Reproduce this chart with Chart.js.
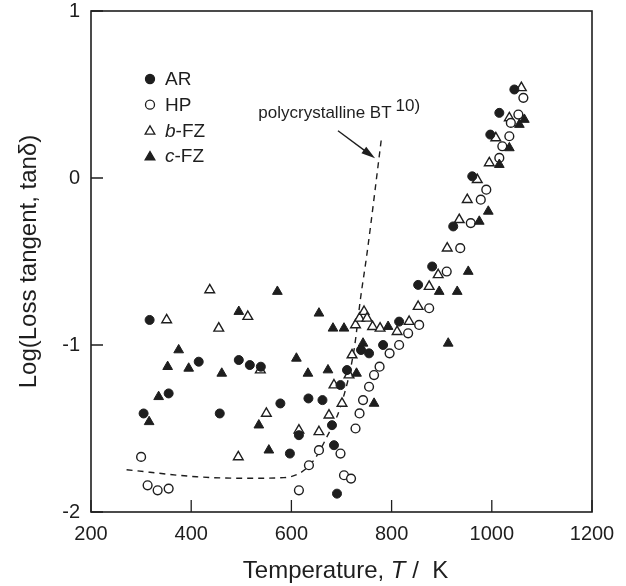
<!DOCTYPE html>
<html><head><meta charset="utf-8">
<script src="https://cdn.jsdelivr.net/npm/chart.js@4.4.1/dist/chart.umd.min.js"></script>
<style>html,body{margin:0;padding:0;background:#fff;}canvas{display:block;}</style>
</head><body>
<canvas id="c" width="626" height="586"></canvas>
<script>
// ---- data (temperature in K, log10 tan delta) ----
const xTickValues = [200, 400, 600, 800, 1000, 1200];
const yTickValues = [-2, -1, 0, 1];

const arT   = [305, 317, 355, 415, 457, 495, 517, 539, 578, 597, 615, 634, 662, 681, 685, 691, 698, 711, 739, 755, 783, 815, 853, 881, 923, 961, 997, 1015, 1045];
const arLog = [-1.41, -0.85, -1.29, -1.10, -1.41, -1.09, -1.12, -1.13, -1.35, -1.65, -1.54, -1.32, -1.33, -1.48, -1.60, -1.89, -1.24, -1.15, -1.03, -1.05, -1.00, -0.86, -0.64, -0.53, -0.29, 0.01, 0.26, 0.39, 0.53];

const hpT   = [300, 313, 333, 355, 615, 635, 655, 698, 705, 719, 728, 736, 743, 755, 765, 776, 796, 815, 833, 855, 875, 910, 937, 958, 978, 989, 1015, 1021, 1035, 1038, 1053, 1063];
const hpLog = [-1.67, -1.84, -1.87, -1.86, -1.87, -1.72, -1.63, -1.65, -1.78, -1.80, -1.50, -1.41, -1.33, -1.25, -1.18, -1.13, -1.05, -1.00, -0.93, -0.88, -0.78, -0.56, -0.42, -0.27, -0.13, -0.07, 0.12, 0.19, 0.25, 0.33, 0.38, 0.48];

const bfzT   = [351, 437, 455, 494, 513, 538, 550, 615, 655, 675, 685, 701, 715, 721, 728, 736, 745, 751, 762, 777, 811, 835, 853, 875, 893, 911, 935, 951, 971, 995, 1008, 1035, 1059];
const bfzLog = [-0.85, -0.67, -0.90, -1.67, -0.83, -1.15, -1.41, -1.51, -1.52, -1.42, -1.24, -1.35, -1.18, -1.06, -0.88, -0.84, -0.80, -0.84, -0.89, -0.90, -0.92, -0.86, -0.77, -0.65, -0.58, -0.42, -0.25, -0.13, -0.01, 0.09, 0.24, 0.36, 0.54];

const cfzT   = [316, 335, 353, 375, 395, 461, 495, 535, 555, 572, 610, 633, 655, 673, 683, 705, 730, 743, 765, 793, 895, 913, 931, 953, 975, 993, 1015, 1035, 1055, 1065];
const cfzLog = [-1.46, -1.31, -1.13, -1.03, -1.14, -1.17, -0.80, -1.48, -1.63, -0.68, -1.08, -1.17, -0.81, -1.15, -0.90, -0.90, -1.17, -0.99, -1.35, -0.89, -0.68, -0.99, -0.68, -0.56, -0.26, -0.20, 0.08, 0.18, 0.32, 0.35];

const polyT   = [271, 411, 505, 585, 618, 645, 671, 698, 725, 738, 751, 780];
const polyLog = [-1.747, -1.789, -1.798, -1.794, -1.765, -1.689, -1.549, -1.369, -1.03, -0.72, -0.45, 0.244];

// annotation anchor (data space)
const noteText = 'polycrystalline BT';
const noteRef = '10)';
const noteAt = {T: 534, L: 0.389};
const arrowFrom = {T: 693, L: 0.283};
const arrowTo = {T: 767, L: 0.118};

// ---- styles ----
const ink = '#1e1e1e';
const FONT = '"Liberation Sans", Arial, Helvetica, sans-serif';
const pts = (xs, ys) => xs.map((x, i) => ({x, y: ys[i]}));

const legendItems = [
  {style: 'circle', filled: true, parts: [{t: 'AR'}]},
  {style: 'circle', filled: false, parts: [{t: 'HP'}]},
  {style: 'triangle', filled: false, parts: [{t: 'b', it: true}, {t: '-FZ'}]},
  {style: 'triangle', filled: true, parts: [{t: 'c', it: true}, {t: '-FZ'}]}
];

function marker(ctx, style, filled, x, y, r) {
  ctx.beginPath();
  if (style === 'circle') {
    ctx.arc(x, y, r, 0, Math.PI * 2);
  } else {
    for (let i = 0; i < 3; i++) {
      const a = i * 2 * Math.PI / 3;
      const px = x + Math.sin(a) * r, py = y - Math.cos(a) * r;
      if (i) ctx.lineTo(px, py); else ctx.moveTo(px, py);
    }
    ctx.closePath();
  }
  ctx.fillStyle = filled ? ink : '#fff';
  ctx.fill();
  ctx.lineWidth = 1.3;
  ctx.strokeStyle = ink;
  ctx.stroke();
}

const decor = {
  id: 'decor',
  afterDraw(chart) {
    const ctx = chart.ctx, a = chart.chartArea;
    const xs = chart.scales.x, ys = chart.scales.y;
    ctx.save();
    // frame
    ctx.strokeStyle = ink; ctx.lineWidth = 1.6;
    ctx.strokeRect(a.left, a.top, a.right - a.left, a.bottom - a.top);
    // inward ticks
    ctx.lineWidth = 1.3;
    ctx.beginPath();
    xs.ticks.forEach(t => { const p = xs.getPixelForValue(t.value); ctx.moveTo(p, a.bottom); ctx.lineTo(p, a.bottom - 12); });
    ys.ticks.forEach(t => { const p = ys.getPixelForValue(t.value); ctx.moveTo(a.left, p); ctx.lineTo(a.left + 12, p); });
    ctx.stroke();

    // x title with italic T
    ctx.fillStyle = ink;
    ctx.textBaseline = 'alphabetic';
    const segs = [{t: 'Temperature, ', f: '24px ' + FONT}, {t: 'T', f: 'italic 24px ' + FONT}, {t: ' /  K', f: '24px ' + FONT}];
    let tw = 0;
    segs.forEach(s => { ctx.font = s.f; s.w = ctx.measureText(s.t).width; tw += s.w; });
    let cx = (a.left + a.right) / 2 + 4 - tw / 2;
    segs.forEach(s => { ctx.font = s.f; ctx.fillText(s.t, cx, 578); cx += s.w; });

    // y title
    ctx.save();
    ctx.translate(36, (a.top + a.bottom) / 2);
    ctx.rotate(-Math.PI / 2);
    ctx.font = '24px ' + FONT;
    ctx.textAlign = 'center';
    ctx.fillText('Log(Loss tangent, tan\u03B4)', 0, 0);
    ctx.restore();

    // legend
    legendItems.forEach((it, i) => {
      const y = a.top + 68 + i * 25.7;
      const mx = a.left + 59;
      marker(ctx, it.style, it.filled, mx, it.style === 'triangle' ? y + 1 : y, it.style === 'triangle' ? 5.6 : 4.5);
      let tx = mx + 15;
      ctx.fillStyle = ink;
      ctx.textBaseline = 'middle';
      ctx.textAlign = 'left';
      it.parts.forEach(p => {
        ctx.font = (p.it ? 'italic ' : '') + '19px ' + FONT;
        ctx.fillText(p.t, tx, y + 1);
        tx += ctx.measureText(p.t).width;
      });
    });

    // annotation text
    const nx = xs.getPixelForValue(noteAt.T), ny = ys.getPixelForValue(noteAt.L);
    ctx.font = '17px ' + FONT;
    ctx.textBaseline = 'middle';
    ctx.textAlign = 'left';
    ctx.fillText(noteText, nx, ny);
    const w1 = ctx.measureText(noteText).width;
    ctx.fillText(noteRef, nx + w1 + 4, ny - 7);

    // arrow
    const x1 = xs.getPixelForValue(arrowFrom.T), y1 = ys.getPixelForValue(arrowFrom.L);
    const x2 = xs.getPixelForValue(arrowTo.T), y2 = ys.getPixelForValue(arrowTo.L);
    const ang = Math.atan2(y2 - y1, x2 - x1);
    const hl = 14, hw = 4;
    ctx.strokeStyle = ink; ctx.lineWidth = 1.4;
    ctx.beginPath();
    ctx.moveTo(x1, y1);
    ctx.lineTo(x2 - Math.cos(ang) * hl * 0.8, y2 - Math.sin(ang) * hl * 0.8);
    ctx.stroke();
    ctx.beginPath();
    ctx.moveTo(x2, y2);
    ctx.lineTo(x2 - Math.cos(ang) * hl - Math.sin(ang) * hw, y2 - Math.sin(ang) * hl + Math.cos(ang) * hw);
    ctx.lineTo(x2 - Math.cos(ang) * hl + Math.sin(ang) * hw, y2 - Math.sin(ang) * hl - Math.cos(ang) * hw);
    ctx.closePath();
    ctx.fillStyle = ink;
    ctx.fill();
    ctx.restore();
  }
};

new Chart(document.getElementById('c'), {
  type: 'scatter',
  data: {
    datasets: [
      {label: 'AR', data: pts(arT, arLog), pointStyle: 'circle', pointRadius: 4.5, backgroundColor: ink, borderColor: ink, borderWidth: 1, order: 1},
      {label: 'HP', data: pts(hpT, hpLog), pointStyle: 'circle', pointRadius: 4.4, backgroundColor: '#fff', borderColor: ink, borderWidth: 1.4, order: 2},
      {label: 'b-FZ', data: pts(bfzT, bfzLog), pointStyle: 'triangle', pointRadius: 5.6, backgroundColor: '#fff', borderColor: ink, borderWidth: 1.4, order: 3},
      {label: 'c-FZ', data: pts(cfzT, cfzLog), pointStyle: 'triangle', pointRadius: 5.6, backgroundColor: ink, borderColor: ink, borderWidth: 1, order: 0},
      {label: 'polycrystalline BT', type: 'line', data: pts(polyT, polyLog), showLine: true, pointRadius: 0, borderColor: ink, borderWidth: 1.4, borderDash: [6, 5], tension: 0.3, cubicInterpolationMode: 'monotone', fill: false, order: 10}
    ]
  },
  options: {
    responsive: false,
    devicePixelRatio: 1,
    animation: false,
    events: [],
    clip: false,
    layout: {padding: {top: 11, right: 34, left: 0, bottom: 0}},
    plugins: {legend: {display: false}, tooltip: {enabled: false}},
    scales: {
      x: {
        type: 'linear', min: 200, max: 1200,
        afterBuildTicks: s => { s.ticks = xTickValues.map(v => ({value: v})); },
        afterFit: s => { s.height = 74; s.paddingLeft = 0; s.paddingRight = 0; s.paddingTop = 0; s.paddingBottom = 0; },
        grid: {display: false, drawTicks: false},
        border: {display: false},
        ticks: {padding: 10, color: ink, font: {family: FONT, size: 20}, maxRotation: 0, autoSkip: false, callback: v => String(v)}
      },
      y: {
        type: 'linear', min: -2, max: 1,
        afterBuildTicks: s => { s.ticks = yTickValues.map(v => ({value: v})); },
        afterFit: s => { s.width = 91; s.paddingTop = 0; s.paddingBottom = 0; s.paddingLeft = 0; s.paddingRight = 0; },
        grid: {display: false, drawTicks: false},
        border: {display: false},
        ticks: {padding: 11, color: ink, font: {family: FONT, size: 20}, autoSkip: false, callback: v => String(v)}
      }
    }
  },
  plugins: [decor]
});
</script>
</body></html>
